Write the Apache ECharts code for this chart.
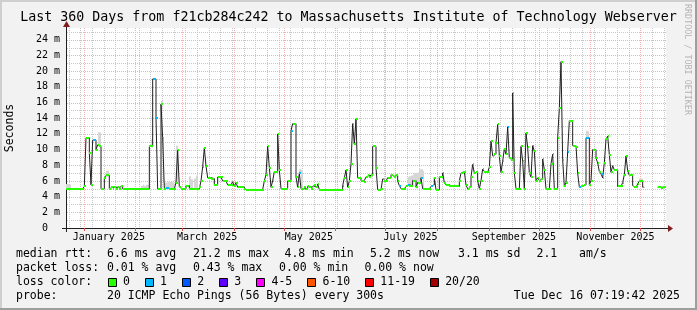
<!DOCTYPE html>
<html><head><meta charset="utf-8">
<script src="https://cdn.jsdelivr.net/npm/echarts@6/dist/echarts.min.js"></script>
<style>html,body{margin:0;padding:0;background:#f2f2f2}#c{width:697px;height:310px}</style>
</head><body><div id="c"></div>
<script>
// ---------------- data ----------------
const titleText = 'Last 360 Days from f21cb284c242 to Massachusetts Institute of Technology Webserver';
const yAxisName = 'Seconds';
const watermark = 'RRDTOOL / TOBI OETIKER';
const endTime = Date.UTC(2025, 11, 16, 7, 19, 42);
const spanDays = 360;

// median rtt (ms), one value per day from the start of the window
const median = [
  5.0,5.0,5.0,5.0,5.0,5.0,5.0,5.0,5.0,5.0,
  5.0,5.3,11.5,11.5,9.6,5.5,11.2,11.2,10.0,10.6,
  10.4,5.0,5.0,6.4,6.7,6.7,5.0,5.2,5.0,5.2,
  5.0,5.2,5.0,5.3,5.0,5.0,5.0,5.0,5.0,5.0,
  5.0,5.0,5.0,5.0,5.0,5.0,5.0,5.0,5.0,5.0,
  10.4,10.4,19.0,19.0,14.0,5.0,5.0,15.8,11.5,5.0,
  5.1,5.1,5.0,5.0,5.0,5.0,5.8,9.9,5.2,5.0,
  5.0,5.0,5.4,5.4,5.0,5.0,5.0,5.0,5.0,5.0,
  5.2,6.0,7.8,10.2,7.9,6.4,6.4,6.3,6.3,5.5,
  5.5,6.5,6.5,6.5,6.0,6.0,6.0,5.5,5.5,5.5,
  5.9,5.3,5.8,5.2,5.2,5.2,5.2,5.0,4.9,4.9,
  4.9,4.9,4.9,4.9,4.9,4.9,4.9,4.9,4.9,6.0,
  6.8,10.4,7.7,5.2,6.0,7.2,7.2,12.0,7.4,5.0,
  5.0,5.0,5.0,6.0,6.05,12.4,13.3,13.3,6.5,5.2,
  7.0,5.0,5.0,5.2,5.0,5.3,5.2,5.0,5.3,5.5,
  5.2,5.6,4.9,4.9,4.9,4.9,4.9,4.9,4.9,4.9,
  4.9,4.9,4.9,4.9,4.9,4.9,5.4,6.4,7.4,5.2,
  6.0,8.2,13.3,10.7,13.9,6.4,6.4,6.05,6.05,5.9,
  6.5,6.7,6.5,6.7,10.4,10.4,7.7,4.9,4.9,5.0,
  6.25,6.0,6.0,6.4,6.4,6.8,6.6,6.5,6.7,6.0,
  5.4,5.0,5.0,5.0,5.3,5.5,5.4,5.4,6.05,6.05,
  5.2,5.8,5.8,6.4,5.0,5.0,5.0,5.0,5.0,5.3,
  5.5,6.4,4.9,4.9,6.5,6.5,7.0,5.8,5.5,5.5,
  5.3,5.3,5.3,5.3,5.3,5.3,6.0,7.0,7.2,7.2,
  5.5,5.0,5.2,6.5,8.1,7.0,7.1,6.05,5.0,6.05,
  7.5,7.2,7.1,7.1,7.75,11.1,9.2,9.4,10.9,13.2,
  9.15,7.1,8.5,10.1,9.4,12.9,8.9,8.7,17.2,7.0,
  5.0,5.0,5.0,10.4,8.5,5.0,12.1,10.3,7.0,6.5,
  10.5,9.8,6.05,6.4,6.05,6.25,8.8,7.45,5.0,5.0,
  5.0,8.2,9.4,5.0,5.0,11.5,15.3,21.2,8.7,5.3,
  5.8,9.7,13.7,13.7,10.5,10.5,10.3,7.0,5.2,5.3,
  5.3,5.5,11.5,11.5,5.5,6.05,10.0,10.0,8.9,8.3,
  7.2,6.9,6.4,8.3,11.3,11.7,9.35,7.1,7.95,7.4,
  7.4,5.3,5.3,5.3,5.8,6.8,9.2,7.3,6.7,6.7,
  5.4,5.2,5.2,5.6,6.0,6.0,5.2,null,null,null,
  null,null,null,null,null,5.2,5.2,5.1,5.2,5.2
];
// days on which 1 of 20 pings was lost
const lossOneDays = [16,17,52,53,54,60,61,135,140,166,200,205,213,219,226,265,280,301,308,312,313,321];
// visible smoke: [day, highest ping (ms)]
const smoke = [
  [0,5.6],[1,5.6],[2,5.5],[19,12.2],[20,12.2],[24,7.3],[25,7.3],
  [45,5.4],[46,5.5],[47,5.4],[48,5.5],[49,5.5],[51,11.3],[57,16.2],
  [58,5.8],[59,5.8],[60,5.8],[61,5.9],[62,5.9],[63,5.9],[64,5.8],[66,10.5],
  [74,6.6],[75,6.2],[77,6.3],[78,6.7],[140,7.5],[141,7.4],
  [205,6.5],[206,6.6],[207,6.7],[208,6.8],[209,7.0],[210,7.0],[211,7.1],[212,7.5],[213,7.5],[214,7.3],
  [312,12.4],[313,12.3],[344,6.3],[345,6.3]
];
const monthLabels = ['January 2025','March 2025','May 2025','July 2025','September 2025','November 2025'];
const labelMonthIndex = [0, 2, 4, 6, 8, 10];
const yTickValues = [0,2,4,6,8,10,12,14,16,18,20,22,24];
const lossLegend = ['0','1','2','3','4-5','6-10','11-19','20/20'];
const lossColors = ['#26ff00','#00b8ff','#0059ff','#5e00ff','#ff00ff','#ff5500','#ff0000','#a00000'];
const statsRow1 = ['median rtt:','6.6 ms avg','21.2 ms max','4.8 ms min','5.2 ms now','3.1 ms sd','2.1','am/s'];
const statsRow2 = ['packet loss:','0.01 % avg','0.43 % max','0.00 % min','0.00 % now'];
const lossRowTitle = 'loss color:';
const probeRow = ['probe:','20 ICMP Echo Pings (56 Bytes) every 300s'];
const stampText = 'Tue Dec 16 07:19:42 2025';

// ---------------- layout ----------------
const DAY = 86400000;
const startTime = endTime - spanDays * DAY;
const yMax = 25.5;
const FONT = 'DejaVu Sans Mono';
const GRID = '#c8c8c8', MGRID = '#f0b0b0', ARROW = '#801f1f', AXIS = '#1f1f1f';
const dayOf = (y, m, d) => (Date.UTC(y, m, d) - startTime) / DAY;

const monthStartDays = [];
for (let m = 0; m < 12; m++) monthStartDays.push(dayOf(2025, m, 1));
const weekDays = [];
for (let t = Date.UTC(2024, 11, 23); t < endTime; t += 7 * DAY) weekDays.push((t - startTime) / DAY);
const labelDays = labelMonthIndex.map(m => dayOf(2025, m, 16));

const vLines = weekDays.map(d => [d, 0, 0]).concat(monthStartDays.map(d => [d, 0, 1]));
const hLines = [];
for (let v = 1; v <= 25; v++) hLines.push([0, v, v % 2 === 0 ? 1 : 0]);

const lossSet = new Set(lossOneDays);
const markerData = [];
median.forEach((v, d) => { if (v !== null) markerData.push([d, v, lossSet.has(d) ? 1 : 0]); });
const lineData = median.map((v, d) => [d, v === null ? '-' : v]);
lineData.push([spanDays, median[median.length - 1]]);
const smokeData = smoke.map(s => [s[0], s[1], median[s[0]]]);

const chart = echarts.init(document.getElementById('c'), null, {renderer: 'canvas', width: 697, height: 310});

function txt(text, x, y, size, align, color) {
  return {type: 'text', silent: true, style: {text: text, x: x, y: y, font: size + 'px "' + FONT + '"',
    fill: color || '#000', textAlign: align || 'left', textVerticalAlign: 'middle'}};
}
const LF = 11.5, cw = LF * 0.602;
const g = [];
g.push({type: 'rect', silent: true, shape: {x: 0, y: 0, width: 697, height: 2}, style: {fill: '#cfcfcf'}});
g.push({type: 'rect', silent: true, shape: {x: 0, y: 0, width: 2, height: 310}, style: {fill: '#cfcfcf'}});
g.push({type: 'rect', silent: true, shape: {x: 0, y: 308, width: 697, height: 2}, style: {fill: '#9e9e9e'}});
g.push({type: 'rect', silent: true, shape: {x: 695, y: 0, width: 2, height: 310}, style: {fill: '#9e9e9e'}});
g.push(txt(titleText, 348.5, 18, 13.3, 'center'));
g.push({type: 'text', silent: true, x: 687, y: 4, rotation: -Math.PI / 2,
  style: {text: watermark, x: 0, y: 0, font: '8.4px "' + FONT + '"', fill: '#b4b4b4', textAlign: 'left', textVerticalAlign: 'middle'}});
const row1X = [16, 107, 193, 284.5, 370, 458, 536.5, 579];
statsRow1.forEach((t, i) => g.push(txt(t, row1X[i], 254, LF)));
const row2X = [16, 107, 193, 279, 364.5];
statsRow2.forEach((t, i) => g.push(txt(t, row2X[i], 268, LF)));
g.push(txt(lossRowTitle, 16, 282, LF));
let bx = 108;
lossLegend.forEach((lab, i) => {
  g.push({type: 'rect', silent: true, shape: {x: Math.round(bx) + 0.5, y: 278.5, width: 8, height: 8},
    style: {fill: lossColors[i], stroke: '#000', lineWidth: 1}});
  g.push(txt(lab, bx + 15, 282, LF));
  bx = bx + 15 + lab.length * cw + 15.2;
});
g.push(txt(probeRow[0], 16, 296, LF));
g.push(txt(probeRow[1], 107, 296, LF));
g.push(txt(stampText, 680, 296, LF, 'right'));

const option = {
  animation: false,
  backgroundColor: '#f2f2f2',
  grid: {left: 66, top: 28, width: 600, height: 200, show: true, backgroundColor: '#ffffff', borderWidth: 0,
    containLabel: false, outerBoundsMode: 'none'},
  xAxis: {
    type: 'value', min: 0, max: spanDays,
    axisLine: {show: true, onZero: false, lineStyle: {color: AXIS, width: 1}},
    axisTick: {show: true, customValues: monthStartDays, length: 3, lineStyle: {color: '#de4f4f'}},
    axisLabel: {show: true, customValues: labelDays, fontFamily: FONT, fontSize: 10, color: '#000', margin: 4,
      formatter: v => { let bi = 0; labelDays.forEach((d, i) => { if (Math.abs(d - v) < Math.abs(labelDays[bi] - v)) bi = i; }); return monthLabels[bi]; }},
    splitLine: {show: false}
  },
  yAxis: {
    type: 'value', min: 0, max: yMax,
    name: yAxisName, nameLocation: 'middle', nameGap: 50, nameRotate: 90,
    nameTextStyle: {fontFamily: FONT, fontSize: 11.5, color: '#000'},
    axisLine: {show: true, lineStyle: {color: AXIS, width: 1}},
    axisTick: {show: false},
    axisLabel: {show: true, customValues: yTickValues, fontFamily: FONT, fontSize: 10, color: '#000', margin: 6,
      formatter: v => v === 0 ? '0  ' : v + ' m'},
    splitLine: {show: false}
  },
  series: [
    { // vertical grid
      type: 'custom', silent: true, z: 1, data: vLines, encode: {x: 0, y: 1},
      renderItem: (p, api) => {
        const x = Math.round(api.coord([api.value(0), 0])[0]) + 0.5;
        const yb = api.coord([0, 0])[1], yt = api.coord([0, yMax])[1];
        return {type: 'line', shape: {x1: x, y1: yt, x2: x, y2: yb - 1},
          style: {stroke: api.value(2) ? MGRID : GRID, lineWidth: 1, lineDash: [1, 1]}};
      }
    },
    { // horizontal grid
      type: 'custom', silent: true, z: 1, data: hLines, encode: {x: 0, y: 1},
      renderItem: (p, api) => {
        const v = api.value(1);
        const pt = api.coord([0, v]);
        const y = Math.round(pt[1]) + 0.5;
        const xe = api.coord([spanDays, v])[0];
        return {type: 'line', shape: {x1: pt[0] + 1, y1: y, x2: xe, y2: y},
          style: {stroke: api.value(2) ? MGRID : GRID, lineWidth: 1, lineDash: [1, 1]}};
      }
    },
    { // smoke
      type: 'custom', silent: true, z: 2, data: smokeData, encode: {x: 0, y: 1},
      renderItem: (p, api) => {
        const d = api.value(0);
        const a = api.coord([d, api.value(1)]), b = api.coord([d + 1, api.value(2) - 0.15]);
        const x0 = Math.round(a[0]), x1 = Math.round(b[0]);
        return {type: 'rect', shape: {x: x0, y: a[1], width: Math.max(1, x1 - x0), height: b[1] - a[1]},
          style: {fill: '#d6d6d6'}};
      }
    },
    { // median line
      type: 'line', step: 'end', z: 3, silent: true, symbol: 'none', connectNulls: false,
      data: lineData, lineStyle: {color: '#202020', width: 1}
    },
    { // median colored by loss
      type: 'custom', silent: true, z: 4, data: markerData, encode: {x: 0, y: 1},
      renderItem: (p, api) => {
        const d = api.value(0), v = api.value(1);
        const a = api.coord([d, v]), b = api.coord([d + 1, v]);
        const x0 = Math.round(a[0]), x1 = Math.round(b[0]);
        return {type: 'rect', shape: {x: x0, y: Math.round(a[1]) - 1, width: Math.max(1, x1 - x0), height: 2},
          style: {fill: lossColors[api.value(2)]}};
      }
    },
    { // axis arrows
      type: 'custom', silent: true, z: 10, data: [[0, 0]], encode: {x: 0, y: 1},
      renderItem: (p, api) => {
        const o = api.coord([0, 0]), xe = api.coord([spanDays, 0]), ye = api.coord([0, yMax]);
        const ox = Math.round(o[0]), oy = Math.round(o[1]);
        const ex = Math.round(xe[0]), ty = Math.round(ye[1]);
        return {type: 'group', children: [
          {type: 'rect', shape: {x: ox - 4, y: oy, width: 4, height: 1}, style: {fill: AXIS}},
          {type: 'rect', shape: {x: ox, y: oy + 1, width: 1, height: 3}, style: {fill: AXIS}},
          {type: 'rect', shape: {x: ex, y: oy, width: 2, height: 1}, style: {fill: AXIS}},
          {type: 'polygon', shape: {points: [[ex + 2, oy - 3], [ex + 2, oy + 4], [ex + 7, oy + 0.5]]}, style: {fill: ARROW}},
          {type: 'rect', shape: {x: ox, y: ty - 1, width: 1, height: 1}, style: {fill: AXIS}},
          {type: 'polygon', shape: {points: [[ox - 3, ty - 1], [ox + 4, ty - 1], [ox + 0.5, ty - 7]]}, style: {fill: ARROW}}
        ]};
      }
    }
  ],
  graphic: g
};
chart.setOption(option);
</script>
</body></html>
